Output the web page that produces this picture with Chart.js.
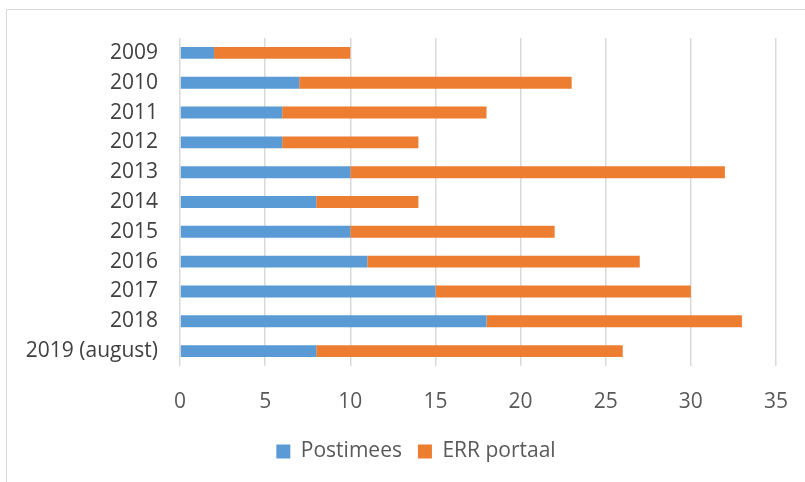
<!DOCTYPE html>
<html>
<head>
<meta charset="utf-8">
<script src="https://cdn.jsdelivr.net/npm/chart.js@4/dist/chart.umd.min.js"></script>
<style>
  html, body { margin: 0; padding: 0; background: #ffffff; }
  #wrap { position: relative; width: 805px; height: 482px; overflow: hidden; }
  #frame { position: absolute; left: 6px; top: 9px; width: 820px; height: 500px;
           border-left: 1px solid #d9d9d9; border-top: 1px solid #d9d9d9; box-sizing: border-box; }
  #c { position: absolute; left: 0; top: 0; }
</style>
</head>
<body>
<div id="wrap">
  <div id="frame"></div>
  <canvas id="c" width="805" height="482"></canvas>
</div>
<script>
const categories = ['2009', '2010', '2011', '2012', '2013', '2014', '2015', '2016', '2017', '2018', '2019 (august)'];
const postimees = [2, 7, 6, 6, 10, 8, 10, 11, 15, 18, 8];
const errPortaal = [8, 16, 12, 8, 22, 6, 12, 16, 15, 15, 18];
const xTicks = [0, 5, 10, 15, 20, 25, 30, 35];

const FONT = 'Open Sans, "Noto Sans", sans-serif';

const shiftLegend = {
  id: 'shiftLegend',
  afterLayout(chart) {
    if (chart.legend) { chart.legend.left += 28; chart.legend.right += 28; }
  }
};

new Chart(document.getElementById('c'), {
  type: 'bar',
  data: {
    labels: categories,
    datasets: [
      { label: 'Postimees', data: postimees, backgroundColor: '#5B9BD5', borderWidth: 0,
        categoryPercentage: 0.4, barPercentage: 1.0 },
      { label: 'ERR portaal', data: errPortaal, backgroundColor: '#ED7D31', borderWidth: 0,
        categoryPercentage: 0.4, barPercentage: 1.0 }
    ]
  },
  options: {
    indexAxis: 'y',
    responsive: false,
    animation: false,
    layout: { padding: { top: 38, right: 29, left: 0, bottom: 10 } },
    scales: {
      x: {
        stacked: true,
        min: 0, max: 35,
        afterBuildTicks: (s) => { s.ticks = xTicks.map(v => ({ value: v })); },
        afterFit: (s) => { s.height = 59; s.paddingLeft = 0; s.paddingRight = 0; },
        grid: { color: '#d9d9d9', lineWidth: 1.5, drawTicks: false },
        border: { display: false },
        ticks: { color: '#595959', font: { family: FONT, size: 21 }, padding: 23 }
      },
      y: {
        stacked: true,
        afterFit: (s) => { s.width = 180; s.paddingTop = 0; s.paddingBottom = 0; },
        grid: { display: false, drawTicks: false },
        border: { display: false },
        ticks: { color: '#404040', font: { family: FONT, size: 21 }, padding: 22 }
      }
    },
    plugins: {
      legend: {
        position: 'bottom',
        labels: { color: '#595959', font: { family: FONT, size: 21 }, boxWidth: 14, boxHeight: 14, padding: 16 }
      },
      tooltip: { enabled: false }
    }
  },
  plugins: [shiftLegend]
});
</script>
</body>
</html>
